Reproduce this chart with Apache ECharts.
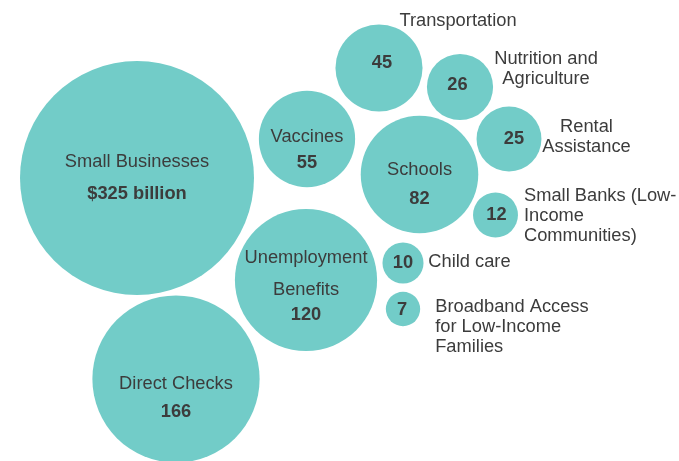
<!DOCTYPE html>
<html>
<head>
<meta charset="utf-8">
<script src="https://cdn.jsdelivr.net/npm/echarts@6/dist/echarts.min.js"></script>
<style>
  html, body { margin: 0; padding: 0; background: #fff; }
  #chart { width: 679px; height: 461px; }
</style>
</head>
<body>
<div id="chart"></div>
<script>
// categories and amounts (billion $)
const names = ['Small Businesses', 'Direct Checks', 'Unemployment\nBenefits', 'Vaccines', 'Transportation',
  'Schools', 'Nutrition and\nAgriculture', 'Rental\nAssistance', 'Small Banks (Low-\nIncome\nCommunities)',
  'Child care', 'Broadband Access\nfor Low-Income\nFamilies'];
const values = [325, 166, 120, 55, 45, 82, 26, 25, 12, 10, 7];

// bubble centres on the hidden axes (packing layout)
const centres = [[137, 178], [176, 379], [306, 280], [307, 139], [379, 68], [419.5, 174.5],
  [460, 87], [509, 139], [495.5, 215], [403, 263], [403, 309]];

const bubbleColor = '#72CCC8';
const textColor = '#3c3c3c';
const font = 'Arial, "Liberation Sans", sans-serif';
const fontSize = 18.3;
const maxRadius = 117;

// label placement: inside names (with line heights) or outside names
const inner = {
  0: { lh: 32, vlh: 32, off: [0, 0] },
  1: { lh: 28, vlh: 28, off: [0, 19] },
  2: { lh: 32, vlh: 19, off: [0, 3.3] },
  3: { lh: 26, vlh: 26, off: [0, 11] },
  5: { lh: 29, vlh: 29, off: [0, 9.5] }
};
const numberOffset = { 4: [3, -5], 6: [-2.5, -2.3], 7: [5, 0], 8: [1, 0], 9: [0, 0], 10: [-1, 1] };
const outer = {
  4: { align: 'center', off: [79, -47] },
  6: { align: 'center', off: [86, -18] },
  7: { align: 'center', off: [77.5, -2] },
  8: { align: 'left', off: [28.5, 0.7] },
  9: { align: 'left', off: [25.3, -0.8] },
  10: { align: 'left', off: [32.2, 18] }
};

function valueText(i) {
  return i === 0 ? '$' + values[i] + ' billion' : String(values[i]);
}

const bubbles = values.map(function (v, i) {
  const spec = inner[i];
  let label;
  if (spec) {
    label = {
      show: true,
      position: 'inside',
      offset: spec.off,
      textBorderWidth: 0,
      formatter: '{n|' + names[i].split('\n').join('}\n{n|') + '}\n{v|' + valueText(i) + '}',
      rich: {
        n: { fontSize: fontSize, fontFamily: font, color: textColor, lineHeight: spec.lh, textBorderWidth: 0 },
        v: { fontSize: fontSize, fontFamily: font, color: textColor, fontWeight: 'bold', lineHeight: spec.vlh, textBorderWidth: 0 }
      }
    };
  } else {
    label = {
      show: true,
      position: 'inside',
      offset: numberOffset[i],
      formatter: valueText(i),
      textBorderWidth: 0,
      fontSize: fontSize, fontFamily: font, color: textColor, fontWeight: 'bold'
    };
  }
  return { name: names[i], value: [centres[i][0], centres[i][1], v], label: label };
});

const outerLabels = [];
Object.keys(outer).forEach(function (k) {
  const i = +k;
  outerLabels.push({
    name: names[i],
    value: [centres[i][0], centres[i][1], values[i]],
    label: {
      show: true,
      position: 'inside',
      align: outer[i].align,
      verticalAlign: 'middle',
      offset: outer[i].off,
      formatter: names[i],
      textBorderWidth: 0,
      textBorderColor: 'transparent',
      fontSize: fontSize, fontFamily: font, color: textColor, lineHeight: 20
    }
  });
});

const chart = echarts.init(document.getElementById('chart'));
chart.setOption({
  backgroundColor: '#fff',
  animation: false,
  grid: { left: 0, right: 0, top: 0, bottom: 0 },
  xAxis: { type: 'value', min: 0, max: 679, show: false },
  yAxis: { type: 'value', min: 0, max: 461, inverse: true, show: false },
  series: [{
    type: 'scatter',
    clip: false,
    data: bubbles,
    symbolSize: function (val) {
      return 2 * maxRadius * Math.sqrt(val[2] / values[0]);
    },
    itemStyle: { color: bubbleColor, opacity: 1 }
  }, {
    type: 'scatter',
    silent: true,
    clip: false,
    symbolSize: 0,
    itemStyle: { color: 'transparent', opacity: 1 },
    data: outerLabels,
    z: 3
  }]
});
</script>
</body>
</html>
